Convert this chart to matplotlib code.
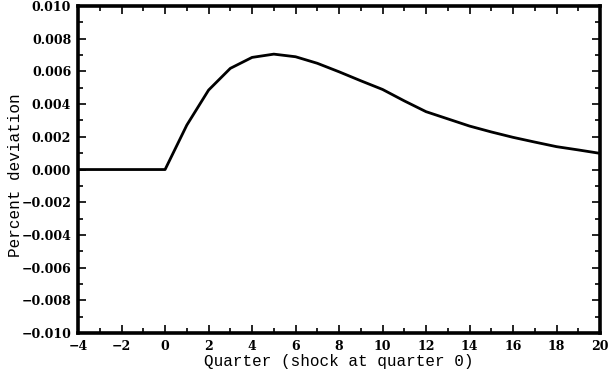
import numpy as np
import matplotlib.pyplot as plt
from matplotlib.ticker import MultipleLocator

quarters = [-4, -3, -2, -1, 0, 1, 2, 3, 4, 5, 6, 7, 8, 9, 10, 11, 12, 13, 14, 15, 16, 17, 18, 19, 20]
deviation = [0.0, 0.0, 0.0, 0.0, 0.0, 0.00272, 0.00486, 0.00619, 0.00686, 0.00706, 0.0069,
             0.0065, 0.00598, 0.00543, 0.0049, 0.0042, 0.00354, 0.0031, 0.00266, 0.0023,
             0.00197, 0.00168, 0.0014, 0.0012, 0.00099]
xticks = list(range(-4, 21, 2))
yticks = np.linspace(-0.010, 0.010, 11)

fig = plt.figure(figsize=(6.15, 3.8), dpi=100)
ax = fig.add_axes([0.127, 0.1237, 0.8486, 0.8603])
ax.plot(quarters, deviation, color='black', linewidth=2)

ax.set_xlim(-4, 20)
ax.set_ylim(-0.010, 0.010)
ax.xaxis.set_minor_locator(MultipleLocator(1))
ax.yaxis.set_minor_locator(MultipleLocator(0.001))

tick_font = dict(fontfamily='DejaVu Serif', fontweight='bold', fontsize=9)
ax.set_xticks(xticks)
ax.set_xticklabels([f'{v}'.replace('-', '\u2212') for v in xticks], **tick_font)
ax.set_yticks(yticks)
ax.set_yticklabels([f'{v:.3f}'.replace('-', '\u2212') for v in yticks], **tick_font)

ax.tick_params(which='both', direction='in', top=True, right=True, width=1.2)
ax.tick_params(which='major', length=6, pad=5)
ax.tick_params(which='minor', length=3.5)
for s in ax.spines.values():
    s.set_linewidth(2.6)

ax.set_xlabel('Quarter (shock at quarter 0)', fontfamily='Liberation Mono', fontsize=11.5)
ax.set_ylabel('Percent deviation', fontfamily='Liberation Mono', fontsize=11.5)
ax.xaxis.set_label_coords(0.5, -0.064)
ax.yaxis.set_label_coords(-0.105, 0.483)

fig.savefig('out.png', dpi=100)
